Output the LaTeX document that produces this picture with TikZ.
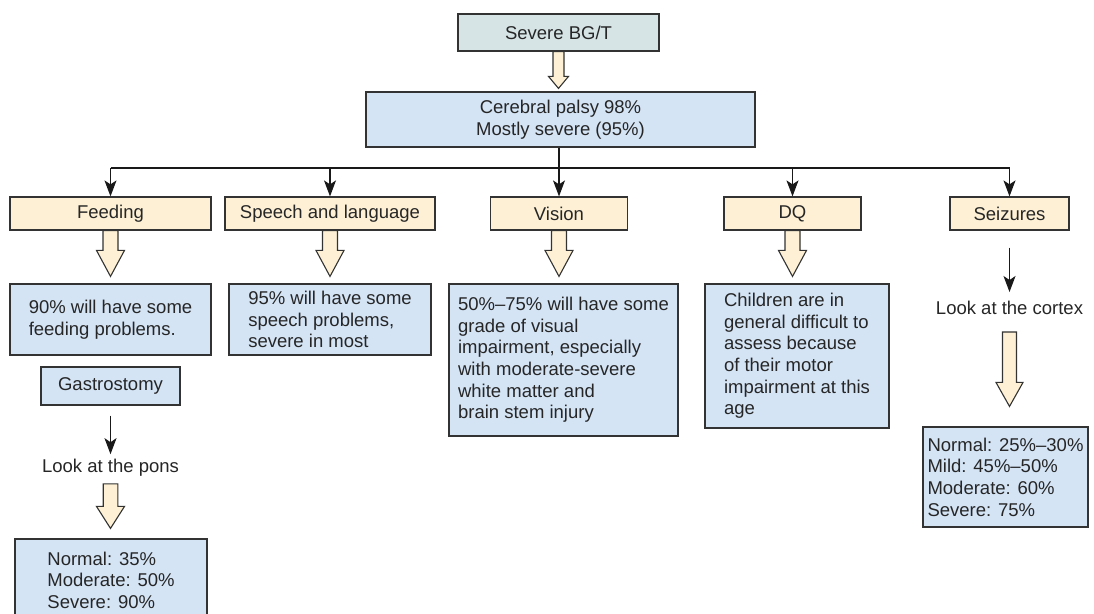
\documentclass[tikz,border=0pt]{standalone}
\usepackage{fontspec}
\setmainfont{Liberation Sans}
\usetikzlibrary{arrows.meta,calc}
\definecolor{cream}{HTML}{FDF0D5}
\definecolor{lblue}{HTML}{D4E4F5}
\definecolor{topc}{HTML}{D6E4E6}
\definecolor{edgec}{HTML}{333333}
\newcommand\harrow[5]{\path[hollow] let \p1=(#1), \p2=(#2) in
  (\x1-#3pt,\y1) -- (\x1+#3pt,\y1) -- (\x1+#3pt,\y2+#5pt) -- (\x1+#4pt,\y2+#5pt)
  -- (\x1,\y2) -- (\x1-#4pt,\y2+#5pt) -- (\x1-#3pt,\y2+#5pt) -- cycle;}
\tikzset{
  txt/.style={font=\fontsize{18.5}{21.6}\selectfont, text=black!85},
  box/.style={txt, draw=edgec, line width=1.2pt, inner sep=0pt},
  topbox/.style={box, fill=topc, align=center},
  catbox/.style={box, fill=cream, align=center},
  bluebox/.style={box, fill=lblue, align=left},
  hollow/.style={draw=edgec, line width=1.1pt, fill=cream, line join=miter},
  thinarrow/.style={draw=black!90, line width=1.1pt, -{Stealth[length=16pt,width=12pt,inset=4pt]}},
  busline/.style={draw=black!90, line width=1.1pt},
}
\begin{document}
\begin{tikzpicture}[x=1pt,y=-1pt]
\clip (0,0) rectangle (1094,613);
\fill[white] (0,0) rectangle (1094,613);
% top
\node[topbox, minimum width=201pt, minimum height=37pt] (top) at (558.5,32.5) {Severe BG/T};
\node[box, fill=lblue, align=center, minimum width=389pt, minimum height=55pt] (cp) at (560.5,119.5) {Cerebral palsy 98\%\\Mostly severe (95\%)};
% categories
\node[catbox, minimum width=201pt, minimum height=33pt] (feed) at (110.5,213.5) {Feeding};
\node[catbox, minimum width=210pt, minimum height=33pt] (speech) at (330,213.5) {Speech and language};
\node[catbox, minimum width=137pt, minimum height=33pt] (vision) at (559,213.5) {Vision};
\node[catbox, minimum width=137pt, minimum height=33pt] (dq) at (792.5,213.5) {DQ};
\node[catbox, minimum width=119pt, minimum height=33pt] (seiz) at (1009.5,213.5) {Seizures};
% second row
\node[bluebox, minimum width=201pt, minimum height=71pt] (feedtxt) at (110.5,319.5) {90\% will have some\\feeding problems.};
\node[bluebox, minimum width=202pt, minimum height=71pt] (speechtxt) at (330,319.5) {95\% will have some\\speech problems,\\severe in most};
\node[bluebox, minimum width=229pt, minimum height=152pt] (visiontxt) at (563.5,360) {50\%--75\% will have some\\grade of visual\\impairment, especially\\with moderate-severe\\white matter and\\brain stem injury};
\node[bluebox, minimum width=184pt, minimum height=144pt] (dqtxt) at (797,356) {Children are in\\general difficult to\\assess because\\of their motor\\impairment at this\\age};
\node[txt, inner sep=0pt] (cortex) at (1009.5,308) {Look at the cortex};
\node[bluebox, minimum width=165pt, minimum height=100pt] (seizres) at (1005.5,477) {Normal: 25\%--30\%\\Mild: 45\%--50\%\\Moderate: 60\%\\Severe: 75\%};
\node[bluebox, align=center, minimum width=139pt, minimum height=38pt] (gastro) at (110.5,386) {Gastrostomy};
\node[txt, inner sep=0pt] (pons) at (110.5,468) {Look at the pons};
\node[bluebox, minimum width=192pt, minimum height=82pt] (feedres) at (111,580) {Normal: 35\%\\Moderate: 50\%\\Severe: 90\%};
% connectors
\coordinate (bus) at (0,168);
\harrow{top.south}{[yshift=3pt]cp.north -| top.south}{5.5}{10}{12}
\draw[busline] (feed.north |- bus) -- (seiz.north |- bus);
\draw[thinarrow] (cp.south -| vision.north) -- (vision.north);
\foreach \n in {feed,speech,dq,seiz}{
  \draw[thinarrow] (\n.north |- bus) -- (\n.north);
}
\harrow{feed.south}{[yshift=7pt]feedtxt.north -| feed.south}{7.5}{14}{26}
\harrow{speech.south}{[yshift=7pt]speechtxt.north -| speech.south}{7.5}{14}{26}
\harrow{vision.south}{[yshift=7pt]visiontxt.north -| vision.south}{7.5}{14}{26}
\harrow{dq.south}{[yshift=7pt]dqtxt.north -| dq.south}{7.5}{14}{26}
\draw[thinarrow, shorten <=17pt, shorten >=9pt] (seiz.south) -- (cortex.north);
\harrow{[yshift=-17pt]cortex.south}{[yshift=20pt]seizres.north -| cortex.south}{7}{13.5}{24}
\draw[thinarrow, shorten <=10pt, shorten >=5pt] (gastro.south) -- (pons.north);
\harrow{[yshift=-7pt]pons.south}{[yshift=10pt]feedres.north -| pons.south}{7.3}{14}{22}
\end{tikzpicture}
\end{document}
